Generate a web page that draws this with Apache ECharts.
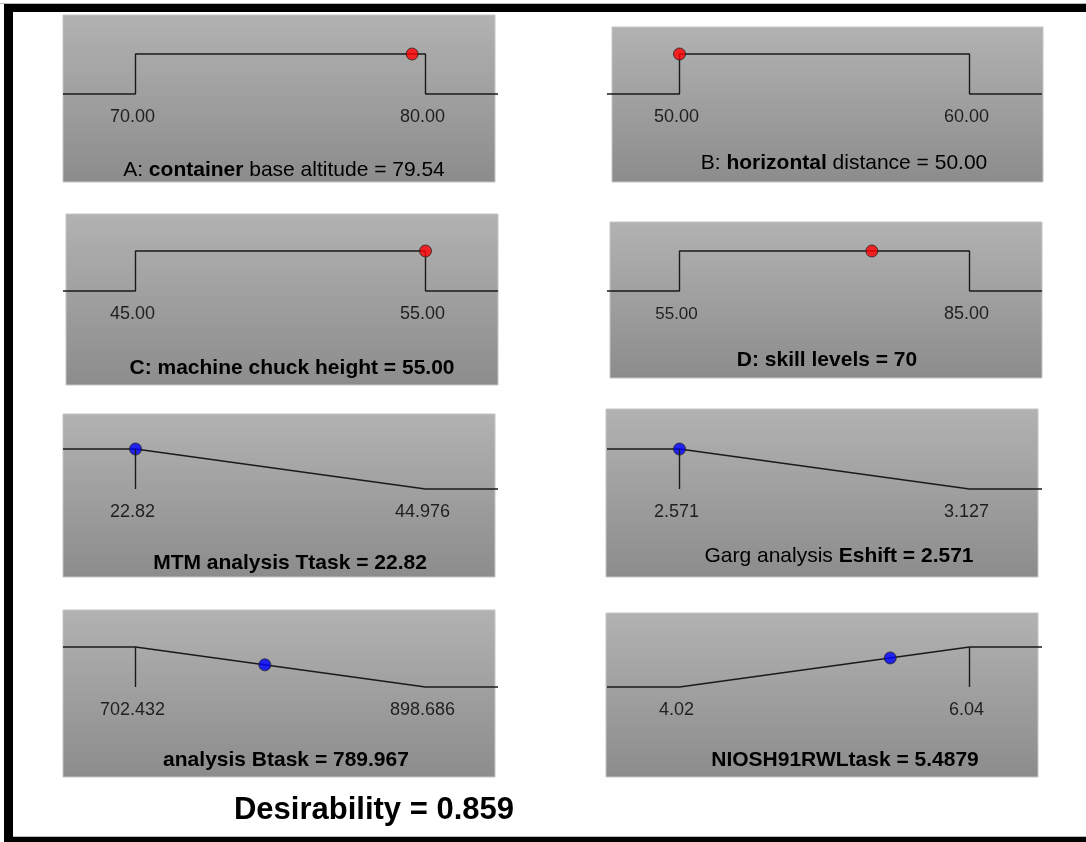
<!DOCTYPE html>
<html><head><meta charset="utf-8">
<script src="https://cdn.jsdelivr.net/npm/echarts@6/dist/echarts.min.js"></script>
<style>html,body{margin:0;padding:0;background:#fff}#c{width:1086px;height:842px}</style>
</head><body><div id="c"></div>
<script>
// ---------------- DATA ----------------
const lowLimits   = [70.00, 50.00, 45.00, 55.00, 22.82, 2.571, 702.432, 4.02];
const highLimits  = [80.00, 60.00, 55.00, 85.00, 44.976, 3.127, 898.686, 6.04];
const lowLabels   = ['70.00', '50.00', '45.00', '55.00', '22.82', '2.571', '702.432', '4.02'];
const highLabels  = ['80.00', '60.00', '55.00', '85.00', '44.976', '3.127', '898.686', '6.04'];
const goalTypes   = ['target', 'target', 'target', 'target', 'minimize', 'minimize', 'minimize', 'maximize'];
const currentValues = [79.54, 50.00, 55.00, 74.9, 22.82, 2.571, 789.967, 5.4879];
const panelTitles = [
  'A: {b|container} base altitude = 79.54',
  'B: {b|horizontal} distance = 50.00',
  '{b|C: machine chuck height = 55.00}',
  '{b|D: skill levels = 70}',
  '{b|MTM analysis Ttask = 22.82}',
  'Garg analysis {b|Eshift = 2.571}',
  '{b|analysis Btask = 789.967}',
  '{b|NIOSH91RWLtask = 5.4879}'
];
const desirabilityText = 'Desirability = 0.859';

// ---------------- LAYOUT / STYLE ----------------
const FONT = 'Liberation Sans, Arial, Helvetica, sans-serif';
const gridLefts = [63, 607, 63, 607, 63, 607, 63, 607];
const gridTops  = [54, 54, 251, 251, 449, 449, 647, 647];
const gridW = 435, gridH = 40;
const panelRects = [
  [63, 15, 432, 167], [612, 27, 431, 155],
  [66, 214, 432, 171], [610, 222, 432, 156],
  [63, 414, 432, 163], [606, 409, 432, 168],
  [63, 610, 432, 167], [606, 613, 432, 164]
];
const titlePos = [[284, 170], [844, 163], [292, 368], [827, 360], [290, 563], [839, 556], [286, 760], [845, 760]];
const dotColors = ['#ff0000', '#ff0000', '#ff0000', '#ff0000', '#0000ff', '#0000ff', '#0000ff', '#0000ff'];
const lowLabelSizes = [18, 18, 18, 17, 18, 18, 18, 18];
const TITLE_SIZE = 21;

function desir(type, lo, hi, x) {
  if (type === 'target') return (x >= lo && x <= hi) ? 1 : 0;
  if (type === 'minimize') return x <= lo ? 1 : (x >= hi ? 0 : (hi - x) / (hi - lo));
  return x <= lo ? 0 : (x >= hi ? 1 : (x - lo) / (hi - lo));
}

const grids = [], xAxes = [], yAxes = [], series = [], graphics = [];

for (let i = 0; i < 8; i++) {
  const lo = lowLimits[i], hi = highLimits[i], r = hi - lo, t = goalTypes[i];
  const xmin = lo - 0.25 * r, xmax = hi + 0.25 * r;
  grids.push({ left: gridLefts[i], top: gridTops[i], width: gridW, height: gridH, show: false });
  xAxes.push({ type: 'value', gridIndex: i, min: xmin, max: xmax, show: false });
  yAxes.push({ type: 'value', gridIndex: i, min: 0, max: 1, show: false });

  let pts;
  if (t === 'target') pts = [[xmin, 0], [lo, 0], [lo, 1], [hi, 1], [hi, 0], [xmax, 0]];
  else if (t === 'minimize') pts = [[xmin, 1], [lo, 1], [hi, 0], [xmax, 0]];
  else pts = [[xmin, 0], [lo, 0], [hi, 1], [xmax, 1]];

  const tickLines = [];
  if (t !== 'target') {
    const dLo = desir(t, lo, hi, lo), dHi = desir(t, lo, hi, hi);
    [[lo, dLo], [hi, dHi]].forEach(([x, d]) => {
      const bottom = d > 0.5 ? 0 : -0.29;
      const top = d > 0.5 ? 1 : 0;
      tickLines.push([{ coord: [x, top] }, { coord: [x, bottom] }]);
    });
  }

  series.push({
    type: 'line', xAxisIndex: i, yAxisIndex: i, data: pts, symbol: 'none', clip: false,
    lineStyle: { color: '#1a1a1a', width: 1.4 }, silent: true, z: 2,
    markLine: tickLines.length ? {
      symbol: 'none', silent: true, label: { show: false },
      lineStyle: { color: '#1a1a1a', width: 1.4, type: 'solid' }, data: tickLines
    } : undefined
  });

  series.push({
    type: 'scatter', xAxisIndex: i, yAxisIndex: i, clip: false, silent: true, z: 3,
    data: [
      { value: [lo, -0.58, lowLabels[i]], label: { fontSize: lowLabelSizes[i] } },
      { value: [hi, -0.58, highLabels[i]], label: { fontSize: 18 } }
    ],
    symbolSize: 1, itemStyle: { color: 'transparent' },
    label: {
      show: true, position: 'inside', offset: [-3, 0], color: '#000', fontFamily: FONT,
      formatter: p => p.value[2]
    }
  });

  const cv = currentValues[i];
  series.push({
    type: 'scatter', xAxisIndex: i, yAxisIndex: i, clip: false, silent: true, z: 4,
    data: [[cv, desir(t, lo, hi, cv)]], symbolSize: 12,
    itemStyle: { color: dotColors[i], borderColor: '#222', borderWidth: 1 }
  });

  const pr = panelRects[i];
  graphics.push({
    type: 'rect', z: -10, silent: true,
    shape: { x: pr[0], y: pr[1], width: pr[2], height: pr[3] },
    style: {
      fill: new echarts.graphic.LinearGradient(0, 0, 0, 1, [
        { offset: 0, color: '#b2b2b2' }, { offset: 1, color: '#8c8c8c' }
      ]),
      stroke: '#c4c4c4', lineWidth: 1
    }
  });
  graphics.push({
    type: 'text', z: 50, silent: true,
    style: {
      x: titlePos[i][0], y: titlePos[i][1], text: panelTitles[i], align: 'center', verticalAlign: 'middle',
      fontSize: TITLE_SIZE, fontFamily: FONT, fill: '#000',
      rich: { b: { fontSize: TITLE_SIZE, fontWeight: 'bold', fontFamily: FONT, fill: '#000' } }
    }
  });
}

graphics.push({
  type: 'text', z: 50, silent: true,
  style: { x: 374, y: 810, text: desirabilityText, align: 'center', verticalAlign: 'middle',
    fontSize: 31, fontWeight: 'bold', fontFamily: FONT, fill: '#000' }
});
// frame
graphics.push({ type: 'rect', z: 60, silent: true, shape: { x: 0, y: 3, width: 1086, height: 1 }, style: { fill: '#bbbbbb' } });
graphics.push({ type: 'rect', z: 61, silent: true, shape: { x: 4, y: 4, width: 1082, height: 8 }, style: { fill: '#000' } });
graphics.push({ type: 'rect', z: 61, silent: true, shape: { x: 4, y: 4, width: 9, height: 838 }, style: { fill: '#000' } });
graphics.push({ type: 'rect', z: 60, silent: true, shape: { x: 13, y: 836, width: 1073, height: 1 }, style: { fill: '#bbbbbb' } });
graphics.push({ type: 'rect', z: 61, silent: true, shape: { x: 4, y: 837, width: 1082, height: 5 }, style: { fill: '#000' } });

const chart = echarts.init(document.getElementById('c'), null, { renderer: 'canvas' });
chart.setOption({
  animation: false,
  backgroundColor: '#ffffff',
  grid: grids, xAxis: xAxes, yAxis: yAxes, series: series,
  graphic: { elements: graphics }
});
</script></body></html>
